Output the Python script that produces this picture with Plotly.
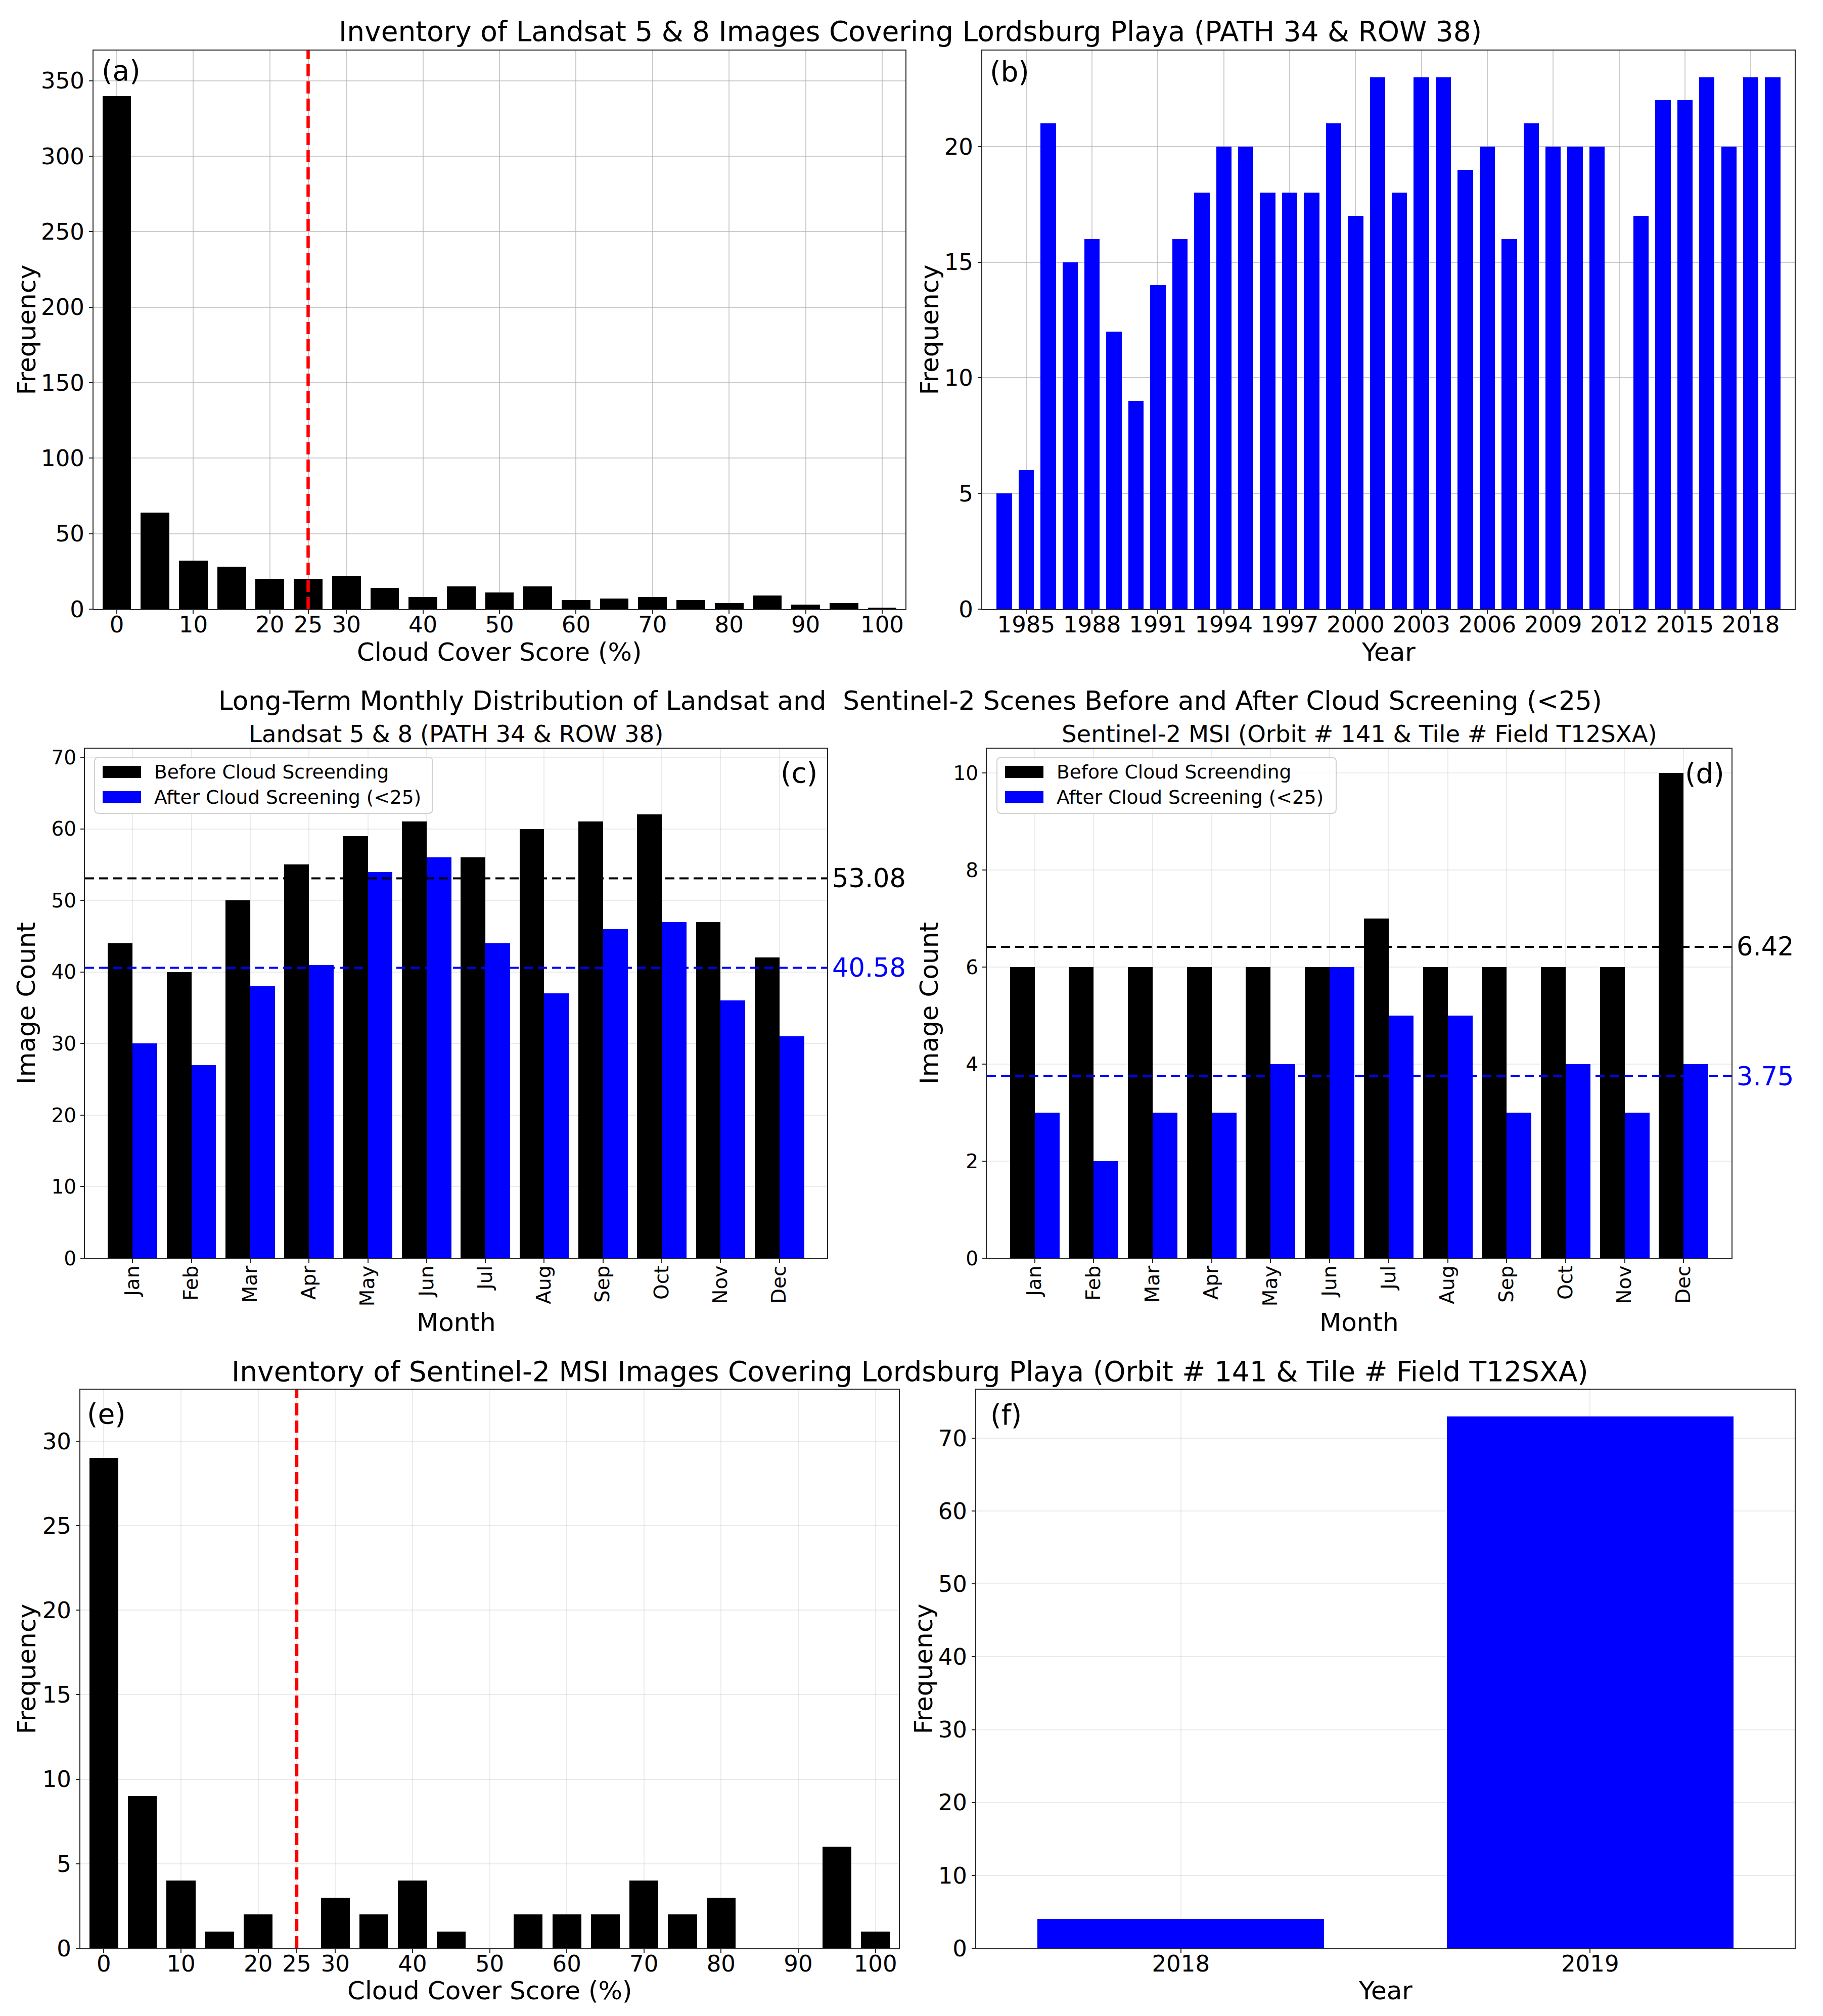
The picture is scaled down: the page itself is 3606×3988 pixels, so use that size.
import numpy as np
import plotly.graph_objects as go

W, H = 3606, 3988
OFF = 8  # default page body margin of the html wrapper
FW, FH = W - OFF, H - OFF
FONT = "DejaVu Sans"

# ---------------- data ----------------
# (a) Landsat cloud cover histogram
landsat_cc_bins = [0, 5, 10, 15, 20, 25, 30, 35, 40, 45, 50, 55, 60, 65, 70, 75, 80, 85, 90, 95, 100]
landsat_cc_freq = [340, 64, 32, 28, 20, 20, 22, 14, 8, 15, 11, 15, 6, 7, 8, 6, 4, 9, 3, 4, 1]
cloud_threshold = 25
cc_tickvals = [0, 10, 20, 25, 30, 40, 50, 60, 70, 80, 90, 100]

# (b) Landsat images per year
landsat_years = [1984, 1985, 1986, 1987, 1988, 1989, 1990, 1991, 1992, 1993, 1994, 1995,
                 1996, 1997, 1998, 1999, 2000, 2001, 2002, 2003, 2004, 2005, 2006, 2007,
                 2008, 2009, 2010, 2011, 2013, 2014, 2015, 2016, 2017, 2018, 2019]
landsat_year_freq = [5, 6, 21, 15, 16, 12, 9, 14, 16, 18, 20, 20,
                     18, 18, 18, 21, 17, 23, 18, 23, 23, 19, 20, 16,
                     21, 20, 20, 20, 17, 22, 22, 23, 20, 23, 23]
year_tickvals = [1985, 1988, 1991, 1994, 1997, 2000, 2003, 2006, 2009, 2012, 2015, 2018]

# (c)/(d) monthly distributions
months = ["Jan", "Feb", "Mar", "Apr", "May", "Jun", "Jul", "Aug", "Sep", "Oct", "Nov", "Dec"]
landsat_before = [44, 40, 50, 55, 59, 61, 56, 60, 61, 62, 47, 42]
landsat_after = [30, 27, 38, 41, 54, 56, 44, 37, 46, 47, 36, 31]
s2_before = [6, 6, 6, 6, 6, 6, 7, 6, 6, 6, 6, 10]
s2_after = [3, 2, 3, 3, 4, 6, 5, 5, 3, 4, 3, 4]

# (e) Sentinel-2 cloud cover histogram
s2_cc_bins = [0, 5, 10, 15, 20, 25, 30, 35, 40, 45, 50, 55, 60, 65, 70, 75, 80, 85, 90, 95, 100]
s2_cc_freq = [29, 9, 4, 1, 2, 0, 3, 2, 4, 1, 0, 2, 2, 2, 4, 2, 3, 0, 0, 6, 1]

# (f) Sentinel-2 images per year
s2_years = ["2018", "2019"]
s2_year_freq = [4, 73]

# ---------------- helpers ----------------
def px(x):
    return (x - OFF) / FW

def py(y):
    return 1 - (y - OFF) / FH

BLACK = "#000000"
BLUE = "#0000ff"
SPINE = "#262626"
GRID_A = "rgba(176,176,176,0.65)"
GRID_B = "rgba(176,176,176,0.25)"

TICK_BIG = 45
TICK_SMALL = 39
AXIS_TITLE = 50

def axis(domain, rng, grid, tsize, **kw):
    d = dict(domain=domain, range=rng, showline=True, linecolor=SPINE, linewidth=2,
             mirror=True, ticks="outside", ticklen=7, tickwidth=2, tickcolor=SPINE,
             showgrid=True, gridcolor=grid, gridwidth=1.6, zeroline=False,
             layer="above traces", automargin=False, fixedrange=True,
             tickfont=dict(family=FONT, size=tsize, color="black"))
    d.update(kw)
    return d

fig = go.Figure()

# (a)
fig.add_trace(go.Bar(x=landsat_cc_bins, y=landsat_cc_freq, width=3.75,
                     marker=dict(color=BLACK, line=dict(width=0)), xaxis="x", yaxis="y",
                     showlegend=False))
# (b)
fig.add_trace(go.Bar(x=landsat_years, y=landsat_year_freq, width=0.7,
                     marker=dict(color=BLUE, line=dict(width=0)), xaxis="x2", yaxis="y2",
                     showlegend=False))
# (c)
mi = list(range(len(months)))
fig.add_trace(go.Bar(x=mi, y=landsat_before, width=0.42, offset=-0.42,
                     marker=dict(color=BLACK, line=dict(width=0)), xaxis="x3", yaxis="y3",
                     name="Before Cloud Screending", showlegend=False))
fig.add_trace(go.Bar(x=mi, y=landsat_after, width=0.42, offset=0,
                     marker=dict(color=BLUE, line=dict(width=0)), xaxis="x3", yaxis="y3",
                     name="After Cloud Screening (<25)", showlegend=False))
# (d)
fig.add_trace(go.Bar(x=mi, y=s2_before, width=0.42, offset=-0.42,
                     marker=dict(color=BLACK, line=dict(width=0)), xaxis="x4", yaxis="y4",
                     name="Before Cloud Screending", showlegend=False))
fig.add_trace(go.Bar(x=mi, y=s2_after, width=0.42, offset=0,
                     marker=dict(color=BLUE, line=dict(width=0)), xaxis="x4", yaxis="y4",
                     name="After Cloud Screening (<25)", showlegend=False))
# (e)
fig.add_trace(go.Bar(x=s2_cc_bins, y=s2_cc_freq, width=3.75,
                     marker=dict(color=BLACK, line=dict(width=0)), xaxis="x5", yaxis="y5",
                     showlegend=False))
# (f)
fig.add_trace(go.Bar(x=s2_years, y=s2_year_freq, width=0.7,
                     marker=dict(color=BLUE, line=dict(width=0)), xaxis="x6", yaxis="y6",
                     showlegend=False))

# panel rectangles (page pixels, top-left origin)
A = (185, 100, 1791, 1205)
B = (1943, 100, 3550, 1205)
C = (168, 1481, 1636, 2489)
D = (1952, 1481, 3425, 2489)
E = (159, 2749, 1778, 3854)
F = (1931, 2749, 3550, 3854)

def dx(r):
    return [px(r[0]), px(r[2])]

def dy(r):
    return [py(r[3]), py(r[1])]

XSO = -17  # pull x tick labels closer to the axis

fig.update_layout(
    xaxis=axis(dx(A), [-3.04, 103.04], GRID_A, TICK_BIG, tickvals=cc_tickvals, anchor="y",
               ticklabelstandoff=XSO),
    yaxis=axis(dy(A), [0, 370], GRID_A, TICK_BIG, tickvals=[0, 50, 100, 150, 200, 250, 300, 350], anchor="x"),
    xaxis2=axis(dx(B), [1983.0, 2020.0], GRID_A, TICK_BIG, tickvals=year_tickvals, anchor="y2",
                ticklabelstandoff=XSO),
    yaxis2=axis(dy(B), [0, 24.15], GRID_A, TICK_BIG, tickvals=[0, 5, 10, 15, 20], anchor="x2"),
    xaxis3=axis(dx(C), [-0.81, 11.81], GRID_B, TICK_SMALL, tickvals=mi, ticktext=months,
                tickangle=-90, anchor="y3", ticklabelstandoff=-10),
    yaxis3=axis(dy(C), [0, 71.2], GRID_B, TICK_SMALL, tickvals=[0, 10, 20, 30, 40, 50, 60, 70], anchor="x3"),
    xaxis4=axis(dx(D), [-0.81, 11.81], GRID_B, TICK_SMALL, tickvals=mi, ticktext=months,
                tickangle=-90, anchor="y4", ticklabelstandoff=-10),
    yaxis4=axis(dy(D), [0, 10.5], GRID_B, TICK_SMALL, tickvals=[0, 2, 4, 6, 8, 10], anchor="x4"),
    xaxis5=axis(dx(E), [-3.04, 103.04], GRID_B, TICK_BIG, tickvals=cc_tickvals, anchor="y5",
                ticklabelstandoff=XSO),
    yaxis5=axis(dy(E), [0, 33.05], GRID_B, TICK_BIG, tickvals=[0, 5, 10, 15, 20, 25, 30], anchor="x5"),
    xaxis6=axis(dx(F), [-0.5, 1.5], GRID_B, TICK_BIG, type="category", anchor="y6",
                ticklabelstandoff=XSO),
    yaxis6=axis(dy(F), [0, 76.65], GRID_B, TICK_BIG, tickvals=[0, 10, 20, 30, 40, 50, 60, 70], anchor="x6"),
)

shapes = []
annotations = []

# threshold lines
for xr, yr in (("x", "y domain"), ("x5", "y5 domain")):
    shapes.append(dict(type="line", xref=xr, yref=yr, x0=cloud_threshold, x1=cloud_threshold,
                       y0=0, y1=1, layer="above",
                       line=dict(color="#ff0000", width=6.5, dash="24px,10px")))

# mean lines + labels
for xr, yr, before, after, rect in (("x3", "y3", landsat_before, landsat_after, C),
                                    ("x4", "y4", s2_before, s2_after, D)):
    for vals, col in ((before, BLACK), (after, BLUE)):
        m = float(np.mean(vals))
        shapes.append(dict(type="line", xref=xr + " domain", yref=yr, x0=0, x1=1, y0=m, y1=m,
                           layer="above", line=dict(color=col, width=4, dash="18px,10px")))
        annotations.append(dict(xref="paper", yref=yr, x=px(rect[2] + 8), y=m,
                                text=f"{m:.2f}", showarrow=False, xanchor="left", yanchor="middle",
                                font=dict(family=FONT, size=51, color=col)))

# manual legends
def rounded_box(x0, y0, x1, y1, r=9):
    pts = [
        f"M{px(x0 + r)},{py(y0)}",
        f"L{px(x1 - r)},{py(y0)}",
        f"Q{px(x1)},{py(y0)} {px(x1)},{py(y0 + r)}",
        f"L{px(x1)},{py(y1 - r)}",
        f"Q{px(x1)},{py(y1)} {px(x1 - r)},{py(y1)}",
        f"L{px(x0 + r)},{py(y1)}",
        f"Q{px(x0)},{py(y1)} {px(x0)},{py(y1 - r)}",
        f"L{px(x0)},{py(y0 + r)}",
        f"Q{px(x0)},{py(y0)} {px(x0 + r)},{py(y0)}",
        "Z",
    ]
    return " ".join(pts)

legend_labels = ["Before Cloud Screending", "After Cloud Screening (&lt;25)"]
for lx0, lx1 in ((187, 856), (1972, 2643)):
    shapes.append(dict(type="path", xref="paper", yref="paper", path=rounded_box(lx0, 1498, lx1, 1609),
                       fillcolor="rgba(255,255,255,0.85)", line=dict(color="#d0d0d0", width=2),
                       layer="above"))
    for k, (col, lab) in enumerate(zip((BLACK, BLUE), legend_labels)):
        yc = 1527 + 50 * k
        shapes.append(dict(type="rect", xref="paper", yref="paper",
                           x0=px(lx0 + 16), x1=px(lx0 + 92), y0=py(yc + 12), y1=py(yc - 12),
                           fillcolor=col, line=dict(width=0), layer="above"))
        annotations.append(dict(xref="paper", yref="paper", x=px(lx0 + 116), y=py(yc), text=lab,
                                showarrow=False, xanchor="left", yanchor="middle",
                                font=dict(family=FONT, size=37.5, color="black")))

# titles
def text(x, y, s, size, **kw):
    d = dict(xref="paper", yref="paper", x=px(x), y=py(y), text=s, showarrow=False,
             xanchor="center", yanchor="middle", font=dict(family=FONT, size=size, color="black"))
    d.update(kw)
    annotations.append(d)

text(1800, 62, "Inventory of Landsat 5 &amp; 8 Images Covering Lordsburg Playa (PATH 34 &amp; ROW 38)", 55)
text(1800, 1386, "Long-Term Monthly Distribution of Landsat and  Sentinel-2 Scenes Before and After Cloud Screening (&lt;25)", 51.5)
text((C[0] + C[2]) / 2, 1452, "Landsat 5 &amp; 8 (PATH 34 &amp; ROW 38)", 46.5)
text((D[0] + D[2]) / 2, 1452, "Sentinel-2 MSI (Orbit # 141 &amp; Tile # Field T12SXA)", 46.5)
text(1800, 2713, "Inventory of Sentinel-2 MSI Images Covering Lordsburg Playa (Orbit # 141 &amp; Tile # Field T12SXA)", 55)

# axis titles
text((A[0] + A[2]) / 2, 1290, "Cloud Cover Score (%)", AXIS_TITLE)
text((B[0] + B[2]) / 2, 1290, "Year", AXIS_TITLE)
text((C[0] + C[2]) / 2, 2616, "Month", AXIS_TITLE)
text((D[0] + D[2]) / 2, 2616, "Month", AXIS_TITLE)
text((E[0] + E[2]) / 2, 3938, "Cloud Cover Score (%)", AXIS_TITLE)
text((F[0] + F[2]) / 2, 3938, "Year", AXIS_TITLE)
text(52, (A[1] + A[3]) / 2, "Frequency", AXIS_TITLE, textangle=-90)
text(1838, (B[1] + B[3]) / 2, "Frequency", AXIS_TITLE, textangle=-90)
text(52, (C[1] + C[3]) / 2, "Image Count", AXIS_TITLE, textangle=-90)
text(1838, (D[1] + D[3]) / 2, "Image Count", AXIS_TITLE, textangle=-90)
text(52, (E[1] + E[3]) / 2, "Frequency", AXIS_TITLE, textangle=-90)
text(1826, (F[1] + F[3]) / 2, "Frequency", AXIS_TITLE, textangle=-90)

# panel labels
text(199, 140, "(a)", 55, xanchor="left")
text(1956, 142, "(b)", 55, xanchor="left")
text(1619, 1529, "(c)", 55, xanchor="right")
text(3413, 1530, "(d)", 55, xanchor="right")
text(170, 2797, "(e)", 55, xanchor="left")
text(1957, 2799, "(f)", 55, xanchor="left")

fig.update_layout(
    width=FW, height=FH, template="none",
    margin=dict(l=0, r=0, t=0, b=0, pad=0),
    paper_bgcolor="white", plot_bgcolor="white",
    barmode="overlay", bargap=0,
    font=dict(family=FONT, color="black"),
    shapes=shapes, annotations=annotations, showlegend=False,
)

fig.write_html("out.html")
